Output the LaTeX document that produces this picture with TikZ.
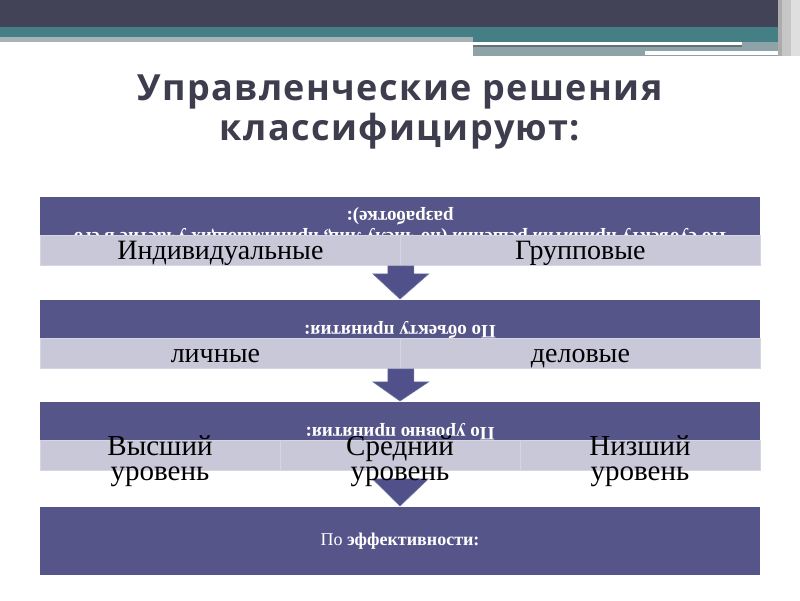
\documentclass[tikz,border=0pt]{standalone}
\usepackage{fontspec}
\setmainfont{Liberation Serif}
\newfontfamily\titlefont{Open Sans}[LetterSpace=4]
\usetikzlibrary{calc}
\definecolor{topdark}{HTML}{434358}
\definecolor{teal}{HTML}{457F86}
\definecolor{stripgray}{HTML}{A9B3B6}
\definecolor{tealgray}{HTML}{8EA3A7}
\definecolor{purp}{HTML}{55558A}
\definecolor{lgray}{HTML}{C3C3D4}
\definecolor{divc}{HTML}{D6D6E2}
\definecolor{titlec}{HTML}{3D3D4D}
\definecolor{arrc}{HTML}{50508A}
\begin{document}
\begin{tikzpicture}[x=1pt,y=-1pt,
  pband/.style={fill=purp,draw=none,minimum width=720pt,inner sep=0pt,anchor=north},
  gcell/.style={fill=lgray,fill opacity=0.9,text opacity=1,draw=divc,line width=0.8pt,
     inner sep=0pt,anchor=north west},
  celltext/.style={font=\fontsize{28}{25}\selectfont,align=center,inner sep=0pt,text height=20pt,text depth=7pt},
  uptext/.style={rotate=180,text=white,inner sep=0pt,font=\fontsize{19}{19}\selectfont\bfseries},
  arrow shape/.style={fill=arrc,draw=arrc!80!white,line width=0.6pt}
]
\useasboundingbox (0,0) rectangle (800,600);
\fill[white] (0,0) rectangle (800,600);
% top banner
\fill[topdark] (0,0) rectangle (800,27);
\fill[teal] (0,27) rectangle (475,37);
\fill[stripgray] (0,37) rectangle (475,42);
\fill[teal] (473,27) rectangle (778,42);
\fill[white] (473,42) rectangle (742,45);
\fill[tealgray!70!black] (473,45) rectangle (742,47);
\fill[tealgray] (742,42) rectangle (778,47);
\fill[tealgray] (473,47) rectangle (778,56);
\fill[white] (645,51) rectangle (778,55);
\fill[gray!45] (778,0) rectangle (800,56);
\fill[gray!65] (778,0) rectangle (782,56);
\fill[gray!25] (791,0) rectangle (800,56);
% title
\node[text=titlec,font=\titlefont\bfseries\fontsize{36}{40}\selectfont,align=center] (title) at (400,112)
  {Управленческие решения\\классифицируют:};
% box 1
\node[pband,minimum height=38pt] (p1) at (400,197) {};
\node[uptext] (u1b) at (400,216) {разработке):};
\node[uptext] (u1a) at (400,237) {По субъекту принятия решения (по числу лиц, принимающих участие в его};
\node[gcell,minimum width=360pt,minimum height=30pt] (c11) at (40,235) {};
\node[gcell,minimum width=360pt,minimum height=30pt] (c12) at (400,235) {};
\node[celltext] (t11) at ($(c11.center)+(0,3)$) {Индивидуальные};
\node[celltext] (t12) at ($(c12.center)+(0,3)$) {Групповые};
% box 2
\node[pband,minimum height=38pt] (p2) at (400,300) {};
\node[uptext] (u2) at (400,330) {По объекту принятия:};
\node[gcell,minimum width=360pt,minimum height=30pt] (c21) at (40,338) {};
\node[gcell,minimum width=360pt,minimum height=30pt] (c22) at (400,338) {};
\node[celltext] (t21) at ($(c21.center)+(-5,3)$) {личные};
\node[celltext] (t22) at ($(c22.center)+(0,3)$) {деловые};
% box 3
\node[pband,minimum height=38pt] (p3) at (400,402) {};
\node[uptext] (u3) at (400,432) {По уровню принятия:};
\node[gcell,minimum width=240pt,minimum height=30pt] (c31) at (40,440) {};
\node[gcell,minimum width=240pt,minimum height=30pt] (c32) at (280,440) {};
\node[gcell,minimum width=240pt,minimum height=30pt] (c33) at (520,440) {};
% box 4
\node[pband,minimum height=68pt] (p4) at (400,507) {};
\node[text=white,font=\fontsize{18}{18}\selectfont] (u4) at (p4.center) {По \textbf{эффективности:}};
% arrows
\coordinate (a1) at (c11.south east);
\fill[arrow shape] ($(a1)+(-13,0)$) -- ($(a1)+(13,0)$) -- ($(a1)+(13,8)$) -- ($(a1)+(28,8)$)
  -- ($(p2.north)+(0,-1)$) -- ($(a1)+(-28,8)$) -- ($(a1)+(-13,8)$) -- cycle;
\coordinate (a2) at (c21.south east);
\fill[arrow shape] ($(a2)+(-13,0)$) -- ($(a2)+(13,0)$) -- ($(a2)+(13,13)$) -- ($(a2)+(28,13)$)
  -- ($(p3.north)+(0,-1)$) -- ($(a2)+(-28,13)$) -- ($(a2)+(-13,13)$) -- cycle;
\coordinate (a3) at (c32.south);
\fill[arrow shape] ($(a3)+(-28,8)$) -- ($(a3)+(28,8)$) -- ($(p4.north)+(0,-1)$) -- cycle;
% level texts
\node[font=\fontsize{29}{25}\selectfont,align=center] (l1) at (160,461) {Высший\\уровень};
\node[font=\fontsize{29}{25}\selectfont,align=center] (l2) at (400,461) {Средний\\уровень};
\node[font=\fontsize{29}{25}\selectfont,align=center] (l3) at (640,461) {Низший\\уровень};
\end{tikzpicture}
\end{document}
